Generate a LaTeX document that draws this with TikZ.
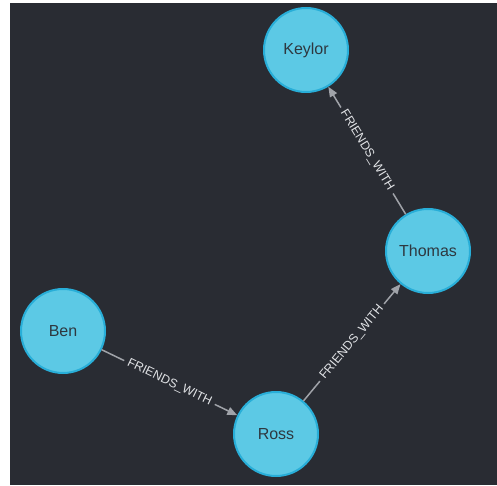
\documentclass[tikz,border=0pt]{standalone}
\usepackage{fontspec}
\setmainfont{Liberation Sans}
\usetikzlibrary{arrows.meta}
\definecolor{canvas}{RGB}{41,44,51}
\definecolor{nodefill}{RGB}{92,201,229}
\definecolor{nodeedge}{RGB}{40,174,216}
\definecolor{nodetext}{RGB}{46,56,64}
\definecolor{relline}{RGB}{160,163,169}
\definecolor{reltext}{RGB}{225,227,230}
\tikzset{
  person/.style={circle, minimum size=84pt, inner sep=0pt, draw=nodeedge,
    line width=2pt, fill=nodefill, text=nodetext,
    font=\fontsize{16}{18}\selectfont},
  rel/.style={draw=relline, line width=1.5pt,
    -{Triangle[length=10pt,width=8pt]}},
  rellabel/.style={sloped, fill=canvas, inner sep=4pt, text=reltext,
    font=\fontsize{12.3}{14}\selectfont}
}
\begin{document}
\begin{tikzpicture}[x=1pt,y=1pt]
  \useasboundingbox (0,0) rectangle (497,485);
  \fill[white] (0,0) rectangle (497,485);
  \fill[canvas] (10,0) rectangle (497,482);

  \node[person] (keylor) at (306,435) {Keylor};
  \node[person] (thomas) at (428,234) {Thomas};
  \node[person] (ben)    at (63,154)  {Ben};
  \node[person] (ross)   at (276,51)  {Ross};

  \draw[rel] (ben)    -- node[rellabel] {FRIENDS\_WITH} (ross);
  \draw[rel] (ross)   -- node[rellabel] {FRIENDS\_WITH} (thomas);
  \draw[rel] (thomas) -- node[rellabel] {FRIENDS\_WITH} (keylor);
\end{tikzpicture}
\end{document}
